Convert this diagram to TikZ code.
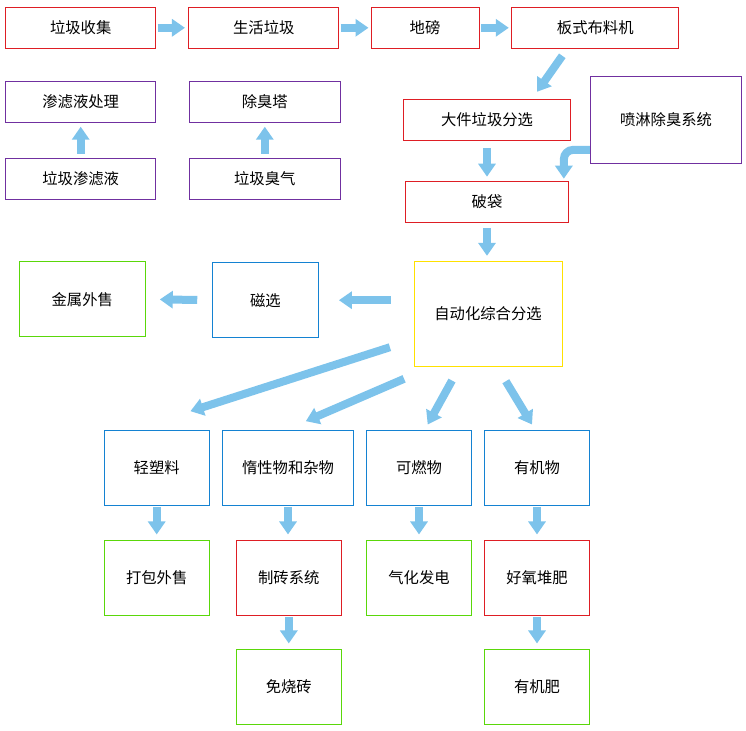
\documentclass[tikz,border=0pt]{standalone}
\usepackage{fontspec}
\setmainfont{Noto Sans CJK SC}
\usepackage{tikz}
\usetikzlibrary{arrows.meta,calc}
\definecolor{boxred}{RGB}{222,30,36}
\definecolor{boxpurple}{RGB}{112,48,160}
\definecolor{boxblue}{RGB}{20,130,210}
\definecolor{boxgreen}{RGB}{90,215,10}
\definecolor{boxyellow}{RGB}{255,225,0}
\definecolor{flowblue}{RGB}{125,195,235}

\begin{document}
\begin{tikzpicture}[
  x=0.75pt, y=-0.75pt,
  box/.style={rectangle, draw=#1, line width=0.75pt, fill=white,
    minimum height=30.75pt, inner sep=0pt, align=center,
    font=\fontsize{11.5pt}{14pt}\selectfont},
  wide/.style={minimum width=#1},
  tall/.style={minimum height=56.25pt},
  arr/.style={-{Triangle[length=9.75pt,width=12.75pt]}, line width=6pt,
    draw=flowblue, #1}
]
\useasboundingbox (0,0) rectangle (746,731);
% Top line: collection to spreader
\node[box=boxred, wide=112.5pt] (collect) at (80.7,27.8) {垃圾收集};
\node[box=boxred, wide=112.5pt] (domestic) at (263.8,27.8) {生活垃圾};
\node[box=boxred, wide=81pt] (scale) at (425,27.8) {地磅};
\node[box=boxred, wide=125pt] (spreader) at (595.3,27.8) {板式布料机};
% Leachate and odour
\node[box=boxpurple, wide=112.5pt] (leachtreat) at (80.7,101.7) {渗滤液处理};
\node[box=boxpurple, wide=113pt] (deodor) at (264.8,101.7) {除臭塔};
\node[box=boxpurple, wide=112.5pt] (leachate) at (80.7,179) {垃圾渗滤液};
\node[box=boxpurple, wide=113pt] (odour) at (264.8,179) {垃圾臭气};
% Pre-treatment
\node[box=boxred, wide=125.5pt] (bulky) at (487,119.8) {大件垃圾分选};
\node[box=boxpurple, wide=113.5pt, minimum height=65.5pt] (spray) at (666,119.7) {喷淋除臭系统};
\node[box=boxred, wide=122pt] (bagopen) at (487,201.7) {破袋};
% Sorting
\node[box=boxyellow, wide=111pt, minimum height=78.5pt] (sort) at (488,314) {自动化综合分选};
\node[box=boxblue, wide=79.5pt, tall] (magnet) at (265.4,300.2) {磁选};
\node[box=boxgreen, wide=94.5pt, tall] (metal) at (82.3,299.2) {金属外售};
% Fractions
\node[box=boxblue, wide=79pt, tall] (plastic) at (156.7,467.8) {轻塑料};
\node[box=boxblue, wide=98.5pt, tall] (inert) at (288,467.8) {惰性物和杂物};
\node[box=boxblue, wide=79pt, tall] (fuel) at (419,467.8) {可燃物};
\node[box=boxblue, wide=79pt, tall] (organic) at (537,467.8) {有机物};
% Products
\node[box=boxgreen, wide=79pt, tall] (baling) at (156.7,577.8) {打包外售};
\node[box=boxred, wide=79pt, tall] (brick) at (288.8,577.8) {制砖系统};
\node[box=boxgreen, wide=79pt, tall] (gasify) at (419,577.8) {气化发电};
\node[box=boxred, wide=79pt, tall] (compost) at (537,577.8) {好氧堆肥};
\node[box=boxgreen, wide=79pt, tall] (unfired) at (288.8,686.8) {免烧砖};
\node[box=boxgreen, wide=79pt, tall] (fertil) at (537,686.8) {有机肥};
% Flow arrows
\draw[arr={shorten <=1pt, shorten >=2.5pt}] (collect) -- (domestic);
\draw[arr={shorten <=1pt, shorten >=1.5pt}] (domestic) -- (scale);
\draw[arr={shorten <=1pt, shorten >=2pt}] (scale) -- (spreader);
\draw[arr] ($(spreader.south)+(-33,7)$) -- ($(bulky.north)+(50,-7)$);
\draw[arr={shorten <=5.5pt, shorten >=3pt}] (bulky.south) -- (bagopen.north);
\draw[arr={rounded corners=7pt}] ($(spray.south west)+(0,-14)$) -| ($(bagopen.north east)+(-5,-2)$);
\draw[arr={shorten <=4pt, shorten >=4pt}] (bagopen.south) -- (bagopen.south |- sort.north);
\draw[arr={shorten <=3pt, shorten >=3pt}] (leachate.north) -- (leachtreat.south);
\draw[arr={shorten <=3pt, shorten >=3pt}] (odour.north) -- (deodor.south);
\draw[arr={shorten <=17pt, shorten >=15pt}] (magnet.east -| sort.west) -- (magnet.east);
\draw[arr={shorten <=11pt, shorten >=10.5pt}] (magnet.west) -- (metal.east);
\draw[arr] ($(sort.south west)+(-23.6,-19.6)$) -- ($(plastic.north)+(33.7,-18.6)$);
\draw[arr] ($(sort.south west)+(-9.4,12)$) -- ($(inert.north)+(17.8,-8.6)$);
\draw[arr] ($(sort.south)+(-36,13.7)$) -- ($(fuel.north)+(8.7,-5.3)$);
\draw[arr] ($(sort.south)+(17.8,14.4)$) -- ($(organic.north)+(-5,-5.3)$);
\foreach \from/\to in {plastic/baling, inert/brick, fuel/gasify, organic/compost, brick/unfired, compost/fertil}
  \draw[arr={shorten <=1pt, shorten >=4pt}] (\from.south) -- (\from.south |- \to.north);
\end{tikzpicture}
\end{document}
